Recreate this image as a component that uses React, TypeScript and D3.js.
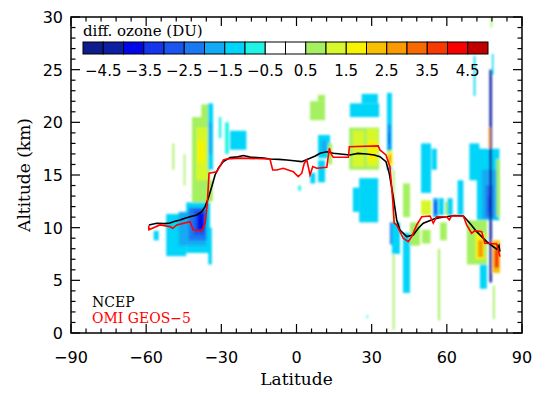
import React from "react";
import * as d3 from "d3";

const W = 547;
const H = 397;
const X0 = 71, X1 = 522, Y0 = 333, Y1 = 17;

const latTicks = [-90, -60, -30, 0, 30, 60, 90];
const altTicks = [0, 5, 10, 15, 20, 25, 30];
const cbTicks = [-4.5, -3.5, -2.5, -1.5, -0.5, 0.5, 1.5, 2.5, 3.5, 4.5];
const cbThresholds = d3.range(-4.5, 4.51, 0.5);
const cbColors = [
  "#0f1d8c", "#0c1ea2", "#0008ea", "#1436ec", "#1a56ee", "#1a78f0", "#12aaf4", "#00d4f8", "#20f4e4",
  "#ffffff", "#ffffff",
  "#a4f060", "#d6f82c", "#f8f400", "#f8c000", "#f89a00", "#f86a00", "#f83a00", "#f80000", "#c00000",
];

// NCEP tropopause
const ncepLat = [-58.9, -55.8, -52.5, -50.5, -48.5, -46.5, -44.5, -42.5, -39.8, -37.8, -36.5, -35.2, -33.8, -32.5, -31.2, -29.2, -26.5, -23.5, -21.2, -18.5, -15.9, -13, -10.6, -7, -3.9, -1, 2.1, 5.4, 7.5, 9.4, 12.1, 14.7, 17.5, 21.3, 24.5, 28.0, 31, 33.3, 35.7, 37.0, 38.6, 40.0, 41.3, 44.0, 46.6, 48.6, 50.6, 54.6, 57, 59.9, 63, 66.6, 69.2, 71.9, 75.9, 79.9, 80.8, 81.2];
const ncepAlt = [10.26, 10.42, 10.38, 10.45, 10.6, 10.73, 10.9, 11.04, 11.21, 11.52, 12.0, 12.8, 13.9, 15.0, 15.64, 16.27, 16.65, 16.72, 16.85, 16.7, 16.65, 16.6, 16.52, 16.48, 16.43, 16.35, 16.27, 16.6, 16.8, 17.07, 17.2, 17.07, 17.0, 16.9, 17.05, 17.0, 16.9, 16.74, 16.27, 15.17, 12.94, 10.73, 9.78, 9.15, 9.3, 9.94, 10.42, 10.8, 10.95, 11.04, 11.15, 11.11, 10.42, 9.62, 8.67, 7.95, 8.3, 7.72];

// OMI GEOS-5 tropopause
const omiLat = [-59.0, -58.9, -54.5, -50.5, -49.4, -47.8, -42.5, -41.2, -37.8, -36.5, -35.6, -34.9, -31.8, -29.2, -27.9, -22.5, -10.6, -9.5, -7.9, -5.3, -1.3, 0.7, 2.1, 3.1, 4.1, 5.4, 6.5, 8.1, 12.1, 13.1, 14.0, 14.7, 20.7, 21.1, 32.6, 33.3, 35.7, 37.3, 38.4, 39.0, 40.0, 42.6, 44.6, 46.0, 48.0, 50.0, 53.3, 54.6, 55.9, 59.9, 61.0, 61.9, 66.6, 67.9, 69.9, 71.2, 73.9, 75.2, 79.9, 81.2];
const omiAlt = [10.2, 9.8, 10.26, 10.1, 9.94, 10.26, 10.57, 9.78, 9.72, 10.42, 12.3, 15.17, 15.3, 16.43, 16.52, 16.6, 16.52, 15.48, 15.48, 15.64, 15.32, 14.84, 15.17, 16.12, 16.43, 15.0, 15.8, 15.64, 15.74, 17.54, 16.9, 16.68, 16.68, 17.69, 17.76, 17.38, 16.9, 15.79, 12.63, 10.42, 10.26, 8.99, 8.67, 9.15, 10.26, 11.04, 11.11, 10.42, 11.04, 11.04, 10.73, 11.11, 11.11, 10.26, 9.47, 9.72, 9.62, 8.52, 8.45, 7.25];

// ozone difference cells: [lat0, lat1, alt0, alt1, DU]
const southCells: number[][] = [
  [-52, -44, 7.3, 11.3, -1.2],
  [-44, -34.5, 7.6, 12.4, -1.2],
  [-47, -36, 8.3, 11.5, -1.7],
  [-43, -36, 8.8, 11.9, -2.2],
  [-41, -36.5, 9.3, 11.7, -2.7],
  [-39.5, -37, 9.8, 11.4, -3.7],
  [-35.2, -33.8, 6.5, 10, -1.2],
  [-57, -55, 8.8, 9.7, -1.2],
  [-41.7, -34.6, 12.4, 20.5, 0.7],
  [-38, -34.6, 20.5, 21.7, 0.7],
  [-40, -35.5, 14.5, 19.5, 1.2],
  [-39.3, -36.9, 16.2, 18.3, 1.7],
  [-35, -33.4, 12.5, 14.5, 0.7],
  [-49.5, -48.8, 15.5, 18, 0.6],
  [-45, -44.4, 14, 17, 0.6],
  [-35.3, -33.3, 15.5, 21.8, -1.2],
  [-35, -33.8, 17, 20, -1.7],
  [-31, -30, 18.5, 20.5, -0.8],
  [-28.5, -27, 17, 20, -0.8],
  [-26.5, -20, 17.4, 19.2, -1.2],
];

const tropicCells: number[][] = [
  [5.5, 7.5, 14.2, 15.2, -1.2],
  [0.7, 1.8, 13.5, 14, -0.8],
  [5.4, 11.4, 20.2, 22.0, 0.7],
  [8.5, 11.4, 22, 22.6, 0.7],
  [8.6, 13.4, 16.6, 18.8, -1.2],
  [10, 12, 17.2, 18.3, -1.7],
  [8.6, 11.4, 14.3, 16.4, -1.2],
  [12.6, 14.2, 16, 18, 0.7],
  [21.3, 33, 20.5, 21.8, -1.2],
  [26, 32.5, 21.8, 22.7, -1.2],
  [21, 33, 15.5, 19.5, 0.7],
  [22.5, 27, 15.8, 19.2, 1.2],
  [28, 32.5, 15.8, 19.4, 1.2],
  [28.5, 32, 16.3, 18.3, 1.7],
  [25, 32.6, 10.5, 14.7, -1.2],
  [22.5, 25, 11.5, 13.8, -1.2],
  [28, 28.5, 1.4, 1.7, -0.8],
];

const northCells: number[][] = [
  [36.1, 38.1, 15.5, 22.8, -1.2],
  [36.5, 37.5, 17.4, 19.8, -2.2],
  [36.6, 37.3, 18, 19, -3.2],
  [36.3, 38.3, 15.8, 17.3, 1.7],
  [36.8, 37.8, 16.2, 16.9, 2.7],
  [38.4, 39.1, 0.3, 15.5, 0.7],
  [38.1, 41.3, 7.5, 10.5, -1.2],
  [37.3, 38.1, 8.4, 10.5, -2.2],
  [42.5, 45.3, 3.8, 9.5, -1.2],
  [42.5, 45.3, 11, 14.2, 0.7],
  [49.7, 53.7, 13.3, 18, -1.2],
  [54, 56, 15.5, 17.5, -1.2],
  [49.7, 53.7, 11.2, 12.6, 1.2],
  [59.3, 61.3, 11.2, 12.5, 0.7],
  [45.3, 49.3, 8.3, 10.5, 0.9],
  [50, 53.5, 8.5, 9.8, 0.7],
  [57.3, 60, 8.8, 10.5, 0.7],
  [54.5, 56.5, 11, 12.8, -1.7],
  [55, 56, 11.3, 12.5, -2.7],
  [56.8, 58.8, 11.2, 12.8, -1.2],
  [60.3, 62.3, 11.2, 12.8, -1.2],
  [64.3, 66.6, 11.2, 14.5, -1.2],
  [56.5, 57.3, 1.2, 8, 0.7],
];

const polarCells: number[][] = [
  [69, 73, 14.5, 18, -1.2],
  [72, 81, 10.7, 17.5, -1.2],
  [74, 80, 10.8, 15.5, -1.7],
  [75.5, 78.5, 11, 14, -2.3],
  [76.5, 77.8, 11.5, 13, -3],
  [77.0, 78.0, 4.8, 25, -4.2],
  [70.7, 71.4, 22.5, 26.3, -1.2],
  [77.5, 78.1, 29, 30, 0.7],
  [78, 78.6, 24.5, 26.5, -1.2],
  [76.7, 77.4, 17.5, 19.5, 2.5],
  [68, 76, 6.5, 10.7, 0.8],
  [71.5, 75, 7, 9.5, 1.7],
  [72.5, 74.5, 7.2, 8.8, 2.7],
  [78.3, 81.2, 5.7, 8.8, 2.2],
  [79, 80.8, 6.2, 7.9, 3.5],
  [73.2, 76, 4.2, 6.5, -1.2],
  [79.8, 81.2, 11, 16.5, 0.7],
  [78.4, 79.1, 1.3, 4.5, 0.7],
];

const allCells = [...southCells, ...tropicCells, ...northCells, ...polarCells];

export default function App() {
  const x = d3.scaleLinear().domain([-90, 90]).range([X0, X1]);
  const y = d3.scaleLinear().domain([0, 30]).range([Y0, Y1]);
  const color = d3.scaleThreshold<number, string>().domain(cbThresholds).range(cbColors);
  const cb = d3.scaleLinear().domain([-5, 5]).range([83, 488]);
  const cbBins = d3.range(-5, 5, 0.5);

  const ncep = d3.line<number>().x((d, i) => x(ncepLat[i])).y((d) => y(d))(ncepAlt) || "";
  const omi = d3.line<number>().x((d, i) => x(omiLat[i])).y((d) => y(d))(omiAlt) || "";

  const xMinor = d3.range(-90, 90.01, 6);
  const yMinor = d3.range(0, 30.01, 1);
  const tickFont = "DejaVu Sans, sans-serif";
  const serif = "DejaVu Serif, serif";

  return (
    <svg width={W} height={H} style={{ position: "absolute", left: 0, top: 0, background: "#fff" }}>
      <defs>
        <clipPath id="plotclip">
          <rect x={X0} y={Y1} width={X1 - X0} height={Y0 - Y1} />
        </clipPath>
        <filter id="soft" x="-5%" y="-5%" width="110%" height="110%">
          <feGaussianBlur stdDeviation="1" />
        </filter>
      </defs>
      <rect width={W} height={H} fill="#fff" />
      <g clipPath="url(#plotclip)">
        <g filter="url(#soft)">
          {allCells.map((c, i) => (
            <rect
              key={i}
              x={x(c[0])}
              y={y(c[3])}
              width={x(c[1]) - x(c[0])}
              height={y(c[2]) - y(c[3])}
              fill={color(c[4])}
            />
          ))}
        </g>
        <path d={ncep} fill="none" stroke="#000" strokeWidth={1.6} />
        <path d={omi} fill="none" stroke="#f00" strokeWidth={1.6} />
      </g>

      {/* colorbar */}
      <text x={83} y={36} fontFamily={serif} fontSize={15} fill="#000">diff. ozone (DU)</text>
      {cbBins.map((b, i) => (
        <rect key={i} x={cb(b)} y={42} width={cb(b + 0.5) - cb(b)} height={12}
          fill={color(b + 0.25)} stroke="#000" strokeWidth={1} />
      ))}
      {cbTicks.map((t) => (
        <text key={t} x={cb(t)} y={76} textAnchor="middle" fontFamily={tickFont} fontSize={15}>
          {t < 0 ? "\u2212" + Math.abs(t).toFixed(1) : t.toFixed(1)}
        </text>
      ))}

      {/* axes frame */}
      <rect x={X0} y={Y1} width={X1 - X0} height={Y0 - Y1} fill="none" stroke="#000" strokeWidth={1.5} />
      {xMinor.map((v) => {
        const major = v % 30 === 0;
        const len = major ? 9 : 4.5;
        return (
          <g key={"xt" + v}>
            <line x1={x(v)} x2={x(v)} y1={Y0} y2={Y0 - len} stroke="#000" strokeWidth={1.2} />
            <line x1={x(v)} x2={x(v)} y1={Y1} y2={Y1 + len} stroke="#000" strokeWidth={1.2} />
          </g>
        );
      })}
      {yMinor.map((v) => {
        const major = v % 5 === 0;
        const len = major ? 9 : 4.5;
        return (
          <g key={"yt" + v}>
            <line x1={X0} x2={X0 + len} y1={y(v)} y2={y(v)} stroke="#000" strokeWidth={1.2} />
            <line x1={X1} x2={X1 - len} y1={y(v)} y2={y(v)} stroke="#000" strokeWidth={1.2} />
          </g>
        );
      })}
      {latTicks.map((t) => (
        <text key={"xl" + t} x={x(t)} y={363} textAnchor="middle" fontFamily={tickFont} fontSize={16}>
          {t < 0 ? "\u2212" + Math.abs(t) : String(t)}
        </text>
      ))}
      {altTicks.map((t) => (
        <text key={"yl" + t} x={63} y={y(t) + 6} textAnchor="end" fontFamily={tickFont} fontSize={16}>
          {String(t)}
        </text>
      ))}
      <text x={(X0 + X1) / 2} y={385} textAnchor="middle" fontFamily={serif} fontSize={17}>Latitude</text>
      <text transform={`translate(30,${(Y0 + Y1) / 2}) rotate(-90)`} textAnchor="middle" fontFamily={serif} fontSize={17}>
        Altitude (km)
      </text>

      {/* legend */}
      <text x={92} y={307} fontFamily={serif} fontSize={14} fill="#000">NCEP</text>
      <text x={92} y={323} fontFamily={serif} fontSize={14} fill="#f00">OMI GEOS{"\u2212"}5</text>
    </svg>
  );
}
